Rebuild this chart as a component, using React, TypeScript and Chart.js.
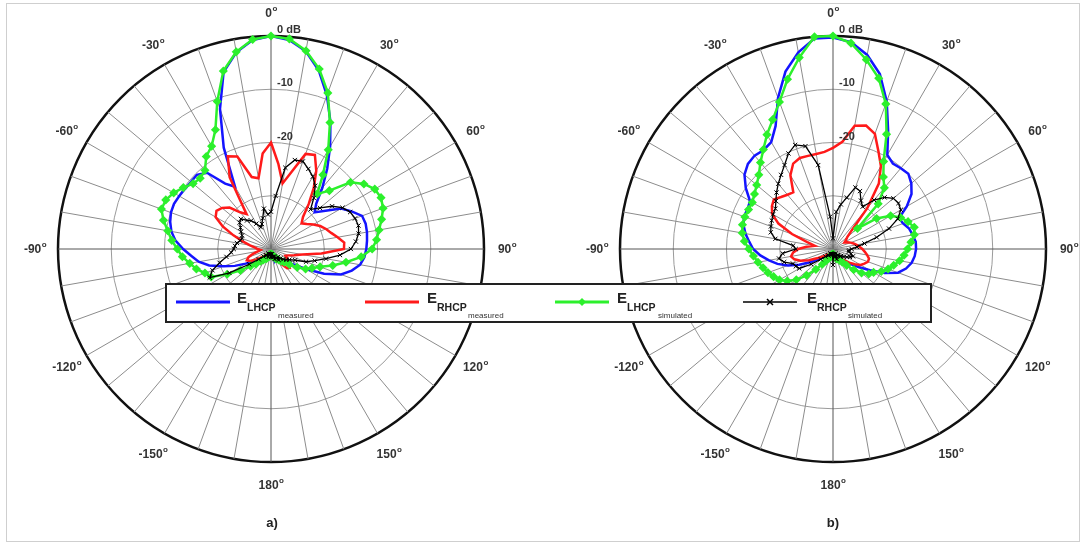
import React, { useEffect, useRef } from "react";
import { Chart, registerables } from "chart.js";

Chart.register(...registerables);

// ---- categories: angle of each sample, clockwise from boresight (0..355 deg, 5 deg step)
const angleCategories: string[] = Array.from({ length: 72 }, (_, i) => `${i * 5}`);
// angle tick labels (degrees) and radial tick labels (dB)
const angleTickValues: number[] = [0, 30, 60, 90, 120, 150, 180, -150, -120, -90, -60, -30];
const dbTickValues: number[] = [0, -10, -20];
const dbTickLabels: string[] = ["0 dB", "-10", "-20"];

// ---- values in dB. "Pos" = 0..180 deg (step 5), "Neg" = -5..-175 deg (step 5)
// (a) left pattern
const aLhcpMeasPos = [0, -0.6, -2.3, -5.3, -9.3, -13.6, -17.8, -21.6, -25, -28, -29.3, -27.5, -24.8, -23.3, -21.8, -21.6, -21.7, -21.9, -22.1, -22.4, -23, -24.3, -26, -29, -32.5, -35, -36.5, -37, -37.5, -38, -37.6, -38.2, -38.5, -38, -38.6, -38.8, -39];
const aLhcpMeasNeg = [-0.6, -2.5, -5.6, -12, -19, -26.5, -25, -21.3, -20.3, -20.4, -20.3, -20.1, -19.9, -20, -20.4, -21, -22, -23.5, -25, -26.2, -28, -30.5, -32.5, -34.5, -36, -37, -37.5, -38, -37.6, -38.3, -38.6, -38.2, -38.8, -39, -39];
const aRhcpMeasPos = [-20, -24, -27.5, -25, -21, -20.5, -23, -26, -29, -31.5, -32.5, -31.8, -30.8, -29.8, -29, -28.3, -27.3, -26.2, -26.3, -30.5, -34, -35.5, -36.5, -37, -36.5, -36, -35.5, -35, -35.3, -36.5, -37.5, -38, -38.5, -38.3, -38.8, -39, -39];
const aRhcpMeasNeg = [-22, -26.5, -26, -21.5, -20.8, -24.5, -32, -31, -29, -28, -27.5, -28, -30, -32.5, -34.5, -36, -37, -37.5, -38, -37.5, -36.5, -35.5, -35, -35.5, -36.5, -37.5, -38, -38.5, -38.5, -39, -39, -39, -39, -39, -39];
const aLhcpSimPos = [0, -0.4, -2.2, -5, -8.8, -13.8, -18.5, -23, -26.5, -24.5, -20.5, -18.7, -17.5, -17.2, -17.6, -18.5, -19.4, -20.1, -21, -23, -25.7, -28, -30.2, -31.5, -32.5, -34, -35.5, -36.5, -37, -37.5, -38, -38, -38.5, -38.5, -39, -39, -39];
const aLhcpSimNeg = [-0.5, -2.4, -5.4, -10.5, -15.3, -17.7, -18.8, -20.7, -21.2, -20.9, -19.9, -18.9, -18.2, -18.1, -19.1, -20.3, -21.3, -22.4, -23.3, -24.5, -25.5, -26.8, -27.6, -30.5, -33, -35, -36, -37, -37.5, -38, -38, -38.5, -38.5, -39, -39];
const aRhcpSimPos = [-33, -30, -24.5, -22.7, -22.5, -23.4, -24.3, -25.5, -27.5, -29.5, -28, -26, -24.5, -23.6, -23.2, -23, -23.3, -24, -25, -27, -29.5, -31.5, -33, -35, -36, -36.5, -37, -37.5, -38, -37.5, -38, -38.5, -38, -38.5, -39, -39, -38.5];
const aRhcpSimNeg = [-33.5, -32.3, -34, -35, -35.5, -34.5, -33.5, -33, -32, -32.3, -33, -33.5, -34, -34.2, -34, -33.5, -33.2, -33, -32.5, -31.5, -30, -28.3, -27.3, -31, -35, -37, -38, -38.5, -38.5, -39, -39, -38.5, -39, -39, -39];

// (b) right pattern
const bLhcpMeasPos = [-0.3, -1, -3, -6, -10.5, -15.5, -19.6, -20.4, -20.2, -20, -20.8, -22, -24, -26.3, -26, -25.2, -24.8, -24.4, -24.4, -24.6, -25, -25.8, -27, -29.3, -32, -34, -35.5, -36.5, -37, -37.5, -38, -38, -38.5, -38.5, -39, -39, -39];
const bLhcpMeasNeg = [-0.3, -2.5, -5.5, -9.8, -14.5, -16.8, -17.3, -17.1, -17.4, -18.3, -20, -22, -22.3, -22.2, -22.6, -23.3, -24.2, -25, -26.3, -27.8, -29.2, -31, -33, -35, -36.5, -37.5, -38, -38, -38.5, -38.5, -39, -39, -39, -39, -39];
const bRhcpMeasPos = [-21, -19.8, -16.5, -16, -17, -19.8, -22, -25, -30, -35, -36.5, -37, -37.5, -37, -36.5, -36, -35.5, -35, -34.5, -34, -33.5, -33, -33, -33.5, -34, -35, -36, -37, -37.5, -38, -38.5, -38.5, -39, -39, -39, -39, -39];
const bRhcpMeasNeg = [-21.7, -21.9, -21.9, -21.8, -22.3, -24, -27, -26.7, -26.2, -25.5, -26, -26.8, -28.7, -31.8, -35, -36.5, -35, -33.5, -32.5, -32, -32.5, -33.5, -35, -36.5, -37.5, -38, -38.5, -38.5, -39, -39, -39, -39, -39, -39, -39];
const bLhcpSimPos = [0, -1.2, -3.9, -6.8, -11, -16.2, -21, -23.5, -25, -28, -34, -30, -27.5, -26, -25, -24.2, -24.5, -25.3, -26, -26.6, -27.3, -28.2, -29, -30, -31.2, -31.8, -33, -34.5, -36, -37, -37.5, -38, -38, -38.5, -38.5, -39, -39];
const bLhcpSimNeg = [0, -3.5, -7, -10.6, -13.2, -15.2, -17.2, -18.8, -20.3, -21.3, -22, -22.5, -22.5, -22.4, -22.4, -22.7, -23.3, -24.2, -25, -25.7, -26.4, -27, -27.7, -28.4, -29.5, -31, -33, -35, -36.5, -37.5, -38, -38.5, -38.5, -39, -39];
const bRhcpSimPos = [-38, -33, -31.5, -30, -27.7, -28, -29.5, -30.3, -28, -26.3, -25.2, -25, -25.3, -26.6, -28.8, -31.5, -34, -35.5, -36.5, -37, -37, -36.5, -36, -36.5, -37, -37.5, -38, -38, -38.5, -38.5, -39, -38.5, -38, -38.5, -39, -39, -37];
const bRhcpSimNeg = [-33.9, -24, -20, -19.2, -20.2, -21.8, -23, -24, -25, -26, -26.8, -27, -27.3, -27.6, -27.9, -29, -32.5, -33, -30.5, -29.7, -30.5, -32, -32.3, -32.7, -35, -37, -38, -38.5, -38.5, -39, -39, -39, -39, -39, -39];

const FONT = '"Liberation Sans", Arial, sans-serif';
const BLUE = "#1414ff";
const RED = "#ff1a1a";
const GREEN = "#2cf02c";
const BLACK = "#000000";

function fullCircle(pos: number[], neg: number[]): number[] {
  return [...pos, ...neg.slice().reverse()];
}

const polarText = {
  id: "polarText",
  afterDraw(chart: any) {
    const scale = chart.scales.r;
    const ctx = chart.ctx as CanvasRenderingContext2D;
    ctx.save();
    ctx.fillStyle = "#333";
    ctx.textBaseline = "middle";
    ctx.textAlign = "left";
    ctx.font = `bold 11px ${FONT}`;
    dbTickValues.forEach((v, i) => {
      const d = scale.getDistanceFromCenterForValue(v);
      ctx.fillText(dbTickLabels[i], scale.xCenter + 6, scale.yCenter - d - 6);
    });
    angleTickValues.forEach((a) => {
      const idx = (((a % 360) + 360) % 360) / 5;
      const p = scale.getPointPosition(idx, scale.drawingArea + 23);
      const main = String(a);
      ctx.font = `bold 12px ${FONT}`;
      const w1 = ctx.measureText(main).width;
      ctx.font = `bold 8px ${FONT}`;
      const w2 = ctx.measureText("o").width;
      const x0 = p.x - (w1 + w2) / 2;
      ctx.font = `bold 12px ${FONT}`;
      ctx.fillText(main, x0, p.y + 1);
      ctx.font = `bold 8px ${FONT}`;
      ctx.fillText("o", x0 + w1 + 0.5, p.y - 4);
    });
    ctx.restore();
  },
};

type PolarProps = { blue: number[]; red: number[]; green: number[]; black: number[]; left: number };

function PolarChart({ blue, red, green, black, left }: PolarProps) {
  const ref = useRef<HTMLCanvasElement>(null);
  useEffect(() => {
    const chart = new Chart(ref.current as HTMLCanvasElement, {
      type: "radar",
      data: {
        labels: angleCategories,
        datasets: [
          { label: "E_LHCP measured", data: blue, borderColor: BLUE, borderWidth: 2.5, pointRadius: 0, fill: false, tension: 0, order: 3 },
          { label: "E_RHCP measured", data: red, borderColor: RED, borderWidth: 2.5, pointRadius: 0, fill: false, tension: 0, order: 2 },
          {
            label: "E_LHCP simulated", data: green, borderColor: GREEN, borderWidth: 2.5, pointRadius: 2.8, pointStyle: "rectRot",
            pointBackgroundColor: GREEN, pointBorderColor: GREEN, fill: false, tension: 0, order: 1,
          },
          {
            label: "E_RHCP simulated", data: black, borderColor: BLACK, borderWidth: 1.3, pointRadius: 3, pointStyle: "crossRot",
            pointBorderColor: BLACK, pointBorderWidth: 1, fill: false, tension: 0, order: 0,
          },
        ],
      } as any,
      options: {
        responsive: false,
        animation: false,
        events: [],
        layout: { padding: 47 },
        plugins: { legend: { display: false }, tooltip: { enabled: false } },
        scales: {
          r: {
            min: -40,
            max: 0,
            startAngle: 0,
            ticks: { display: false, stepSize: 10 },
            pointLabels: { display: false },
            grid: {
              circular: true,
              color: (c: any) => (c.tick && c.tick.value === 0 ? "#111" : "#9a9a9a"),
              lineWidth: (c: any) => (c.tick && c.tick.value === 0 ? 2.5 : 1),
            },
            angleLines: {
              display: true,
              color: (c: any) => (c.index % 2 === 0 ? (c.index % 18 === 0 ? "#555" : "#8c8c8c") : "rgba(0,0,0,0)"),
              lineWidth: (c: any) => (c.index % 2 === 0 ? 1 : 0),
            },
          },
        },
      } as any,
      plugins: [polarText],
    });
    return () => chart.destroy();
  }, []);
  return (
    <canvas
      ref={ref}
      width={520}
      height={520}
      style={{ position: "absolute", left, top: -11, width: 520, height: 520, display: "block" }}
    />
  );
}

function LegendEntry({ x, textX, color, kind, sub, note }: { x: number; textX: number; color: string; kind: string; sub: string; note: string }) {
  const y = 302;
  return (
    <g>
      <line x1={x} y1={y} x2={x + 54} y2={y} stroke={color} strokeWidth={kind === "x" ? 1.5 : 3} />
      {kind === "d" && <polygon points={`${x + 27},${y - 4} ${x + 31},${y} ${x + 27},${y + 4} ${x + 23},${y}`} fill={color} />}
      {kind === "x" && (
        <g stroke={color} strokeWidth={1.5}>
          <line x1={x + 24} y1={y - 3} x2={x + 30} y2={y + 3} />
          <line x1={x + 24} y1={y + 3} x2={x + 30} y2={y - 3} />
        </g>
      )}
      <text x={textX} y={303} fontFamily={FONT} fontWeight="bold" fontSize={15} fill="#222">E</text>
      <text x={textX + 10} y={311} fontFamily={FONT} fontWeight="bold" fontSize={10.5} fill="#222">{sub}</text>
      <text x={textX + 41} y={318} fontFamily={FONT} fontSize={8} fill="#333">{note}</text>
    </g>
  );
}

export default function App() {
  return (
    <div style={{ position: "fixed", left: 0, top: 0, width: 1086, height: 545, overflow: "hidden", background: "#fff" }}>
      <PolarChart
        left={11}
        blue={fullCircle(aLhcpMeasPos, aLhcpMeasNeg)}
        red={fullCircle(aRhcpMeasPos, aRhcpMeasNeg)}
        green={fullCircle(aLhcpSimPos, aLhcpSimNeg)}
        black={fullCircle(aRhcpSimPos, aRhcpSimNeg)}
      />
      <PolarChart
        left={573}
        blue={fullCircle(bLhcpMeasPos, bLhcpMeasNeg)}
        red={fullCircle(bRhcpMeasPos, bRhcpMeasNeg)}
        green={fullCircle(bLhcpSimPos, bLhcpSimNeg)}
        black={fullCircle(bRhcpSimPos, bRhcpSimNeg)}
      />
      <svg width={1086} height={545} style={{ position: "absolute", left: 0, top: 0 }}>
        <rect x={6.5} y={3.5} width={1073} height={538} fill="none" stroke="#cfcfcf" strokeWidth={1} />
        <rect x={166} y={284} width={765} height={38} fill="#fff" stroke="#222" strokeWidth={2} />
        <LegendEntry x={176} textX={237} color={BLUE} kind="l" sub="LHCP" note="measured" />
        <LegendEntry x={365} textX={427} color={RED} kind="l" sub="RHCP" note="measured" />
        <LegendEntry x={555} textX={617} color={GREEN} kind="d" sub="LHCP" note="simulated" />
        <LegendEntry x={743} textX={807} color={BLACK} kind="x" sub="RHCP" note="simulated" />
        <text x={272} y={527} textAnchor="middle" fontFamily={FONT} fontWeight="bold" fontSize={13} fill="#222">a)</text>
        <text x={833} y={527} textAnchor="middle" fontFamily={FONT} fontWeight="bold" fontSize={13} fill="#222">b)</text>
      </svg>
    </div>
  );
}
